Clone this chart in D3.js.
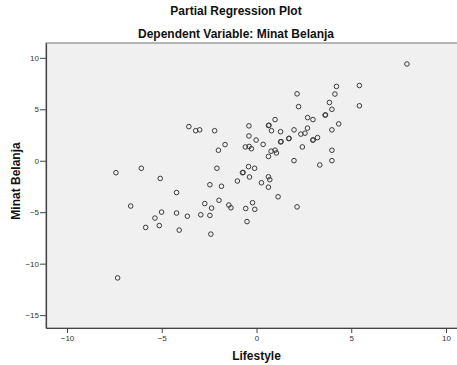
<!DOCTYPE html>
<html>
<head>
<meta charset="utf-8">
<script src="https://cdn.jsdelivr.net/npm/d3@7"></script>
<style>
  body { margin: 0; background: #fff; }
  svg { display: block; font-family: Arial, "Liberation Sans", sans-serif; }
</style>
</head>
<body>
<svg id="chart" width="457" height="365"></svg>
<script>
// partial regression residuals
var lifestyle = [
  -7.42, -6.08, -5.08, -4.22, -6.64, -7.33, -5.85, -5.36, -5.13, -5.01,
  -4.22, -4.08, -3.65, -2.94, -2.73, -2.46, -2.37, -2.41, -1.98, -1.46,
  -1.35, -0.57, -0.50, -0.21, -0.09, 1.14, 2.14, 0.63, -2.46, -1.85,
  -1.01, -0.74, -0.71, -0.42, -0.10, -0.37, 0.26, 0.63, 0.70, -2.09,
  -3.57, -3.21, -3.00, -2.21, -1.66, -2.01, -0.40, -0.40, -0.59, -0.39,
  -0.27, -0.02, 0.35, 0.63, 0.66, 0.79, 1.27, 0.98, 1.98, 2.34,
  2.56, 2.69, 1.27, 1.30, 1.70, 1.72, 2.97, 2.99, 3.22, 2.42,
  0.77, 0.98, 1.05, 0.63, 3.98, 1.98, 3.98, 3.34, 2.14, 2.22,
  2.70, 2.98, 3.62, 3.64, 3.85, 3.98, 4.14, 4.22, 4.34, 3.98,
  5.43, 5.43, 7.94
];
var minatBelanja = [
  -1.16, -0.73, -1.72, -3.09, -4.40, -11.38, -6.48, -5.57, -6.30, -4.99,
  -5.08, -6.74, -5.39, -5.25, -4.16, -5.31, -4.60, -7.13, -3.84, -4.30,
  -4.57, -4.64, -5.91, -4.08, -4.72, -3.50, -4.48, -2.57, -2.33, -2.48,
  -1.97, -1.16, -1.14, -0.57, -0.73, -1.58, -2.14, -1.56, -1.84, -0.73,
  3.32, 2.92, 3.00, 2.92, 1.57, 1.02, 3.39, 2.41, 1.34, 1.39,
  1.17, 2.01, 1.59, 3.42, 3.45, 2.92, 2.82, 4.00, 3.00, 2.59,
  2.68, 3.17, 1.83, 1.86, 2.15, 2.18, 2.00, 2.03, 2.25, 1.34,
  0.93, 1.03, 0.76, 0.42, 1.02, 0.01, 0.01, -0.41, 6.50, 5.26,
  4.19, 4.00, 4.43, 4.46, 5.66, 5.00, 6.48, 7.22, 3.58, 3.00,
  7.31, 5.34, 9.40
];
var xTicks = [-10, -5, 0, 5, 10];
var yTicks = [10, 5, 0, -5, -10, -15];

var points = lifestyle.map((d, i) => ({ x: d, y: minatBelanja[i] }));

var svg = d3.select("#chart");
var plotLeft = 46, plotTop = 43, plotW = 421, plotH = 285;

var x = d3.scaleLinear().domain([-11.11, 11.11]).range([plotLeft, plotLeft + plotW]);
var y = d3.scaleLinear().domain([-16.25, 11.44]).range([plotTop + plotH, plotTop]);

svg.append("rect")
  .attr("x", plotLeft).attr("y", plotTop)
  .attr("width", plotW).attr("height", plotH)
  .attr("fill", "#f0f0f0")
  .attr("stroke", "#8a8a8a")
  .attr("stroke-width", 1.2);

var xAxis = svg.append("g")
  .attr("transform", `translate(0,${plotTop + plotH})`)
  .call(d3.axisBottom(x).tickValues(xTicks).tickSize(5).tickSizeOuter(0).tickPadding(2));
var yAxis = svg.append("g")
  .attr("transform", `translate(${plotLeft},0)`)
  .call(d3.axisLeft(y).tickValues(yTicks).tickSize(6).tickSizeOuter(0).tickPadding(1));

[xAxis, yAxis].forEach(function(g) {
  g.select(".domain").attr("stroke", "#444").attr("stroke-width", 1.2);
  g.selectAll(".tick line").attr("stroke", "#444");
  g.selectAll(".tick text")
    .attr("fill", "#333")
    .style("font-size", "8px")
    .style("font-family", "Arial, 'Liberation Sans', sans-serif");
});

svg.append("g")
  .selectAll("circle")
  .data(points)
  .enter()
  .append("circle")
  .attr("cx", d => x(d.x))
  .attr("cy", d => y(d.y))
  .attr("r", 2.3)
  .attr("fill", "none")
  .attr("stroke", "#3a3a3a")
  .attr("stroke-width", 1);

svg.append("text")
  .attr("x", 236).attr("y", 15)
  .attr("text-anchor", "middle")
  .style("font-size", "12px").style("font-weight", "bold")
  .attr("fill", "#111")
  .text("Partial Regression Plot");

svg.append("text")
  .attr("x", 236).attr("y", 38)
  .attr("text-anchor", "middle")
  .style("font-size", "12px").style("font-weight", "bold")
  .attr("fill", "#111")
  .text("Dependent Variable: Minat Belanja");

svg.append("text")
  .attr("x", x(0)).attr("y", 360)
  .attr("text-anchor", "middle")
  .style("font-size", "12px").style("font-weight", "bold")
  .attr("fill", "#111")
  .text("Lifestyle");

svg.append("text")
  .attr("transform", "translate(19.5,181) rotate(-90)")
  .attr("text-anchor", "middle")
  .style("font-size", "12px").style("font-weight", "bold")
  .attr("fill", "#111")
  .text("Minat Belanja");
</script>
</body>
</html>
